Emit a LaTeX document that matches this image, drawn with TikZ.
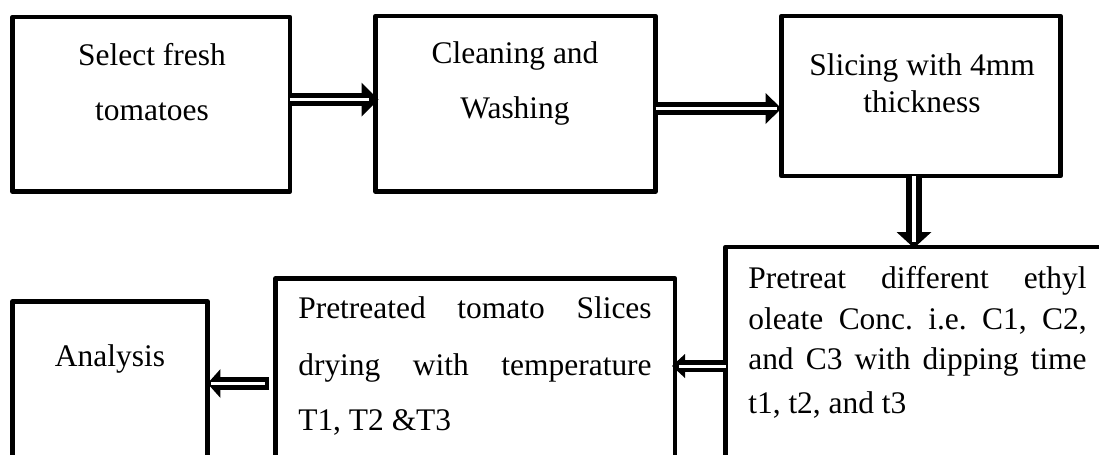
\documentclass[tikz,border=0pt]{standalone}
\usepackage{fontspec}
\setmainfont{Liberation Serif}
\usetikzlibrary{arrows.meta}
\frenchspacing
\begin{document}
\begin{tikzpicture}[x=0.02cm,y=-0.02cm,
  box/.style={draw=black, line width=0.09cm, line join=round, inner sep=0pt, outer sep=0pt, fill=white},
  txt/.style={inner sep=0pt, outer sep=0pt, font=\fontsize{17.9}{20}\selectfont\frenchspacing},
  dblarrow/.style={draw=black, line width=#1},
  stripe/.style={draw=white, line width=#1}
]
\useasboundingbox (0,0) rectangle (1099,454);
\clip (0,0) rectangle (1099,454);
% boxes
\node[box, minimum width=277.5*0.02cm, minimum height=174.5*0.02cm] (b1) at (151.25,104.25) {};
\node[box, minimum width=280*0.02cm, minimum height=175.5*0.02cm] (b2) at (515.5,103.75) {};
\node[box, minimum width=279*0.02cm, minimum height=160*0.02cm] (b3) at (921,96) {};
\node[box, minimum width=394.5*0.02cm, minimum height=233*0.02cm] (b4) at (922.75,363.5) {};
\node[box, minimum width=399.5*0.02cm, minimum height=201.5*0.02cm] (b5) at (475.25,379.25) {};
\node[box, minimum width=195*0.02cm, minimum height=178.5*0.02cm] (b6) at (110,390.75) {};
% texts
\node[txt, anchor=base] (t1a) at (152,65) {Select fresh};
\node[txt, anchor=base] (t1b) at (152,120) {tomatoes};
\node[txt, anchor=base] (t2a) at (515,63) {Cleaning and};
\node[txt, anchor=base] (t2b) at (515,118) {Washing};
\node[txt, anchor=base] (t3a) at (922,75) {Slicing with 4mm};
\node[txt, anchor=base] (t3b) at (922,112) {thickness};
\node[txt, anchor=base] (t6a) at (110,366.7) {Analysis};
\node[txt, anchor=base west] (t5a) at (298.3,318.3) {\makebox[7.068cm][s]{Pretreated tomato Slices}};
\node[txt, anchor=base west] (t5b) at (298.3,375) {\makebox[7.068cm][s]{drying with temperature}};
\node[txt, anchor=base west] (t5c) at (298.3,430) {T1, T2 \&T3};
\node[txt, anchor=base west] (t4a) at (748.3,288.3) {\makebox[6.768cm][s]{Pretreat different ethyl}};
\node[txt, anchor=base west] (t4b) at (748.3,329.3) {\makebox[6.768cm][s]{oleate Conc. i.e. C1, C2,}};
\node[txt, anchor=base west] (t4c) at (748.3,369.3) {\makebox[6.768cm][s]{and C3 with dipping time}};
\node[txt, anchor=base west] (t4d) at (748.3,413.3) {t1, t2, and t3};
% arrow 1
\draw[dblarrow=0.26cm, shorten >=-0.06cm, -{Triangle[length=0.34cm, width=0.68cm, line width=0pt]}]
  ([yshift=0.095cm]b1.east) -- ([yshift=0.095cm]b1.east -| b2.west);
\draw[stripe=0.07cm, shorten >=0.14cm]
  ([yshift=0.095cm]b1.east) -- ([yshift=0.095cm]b1.east -| b2.west);
% arrow 2
\draw[dblarrow=0.26cm, -{Triangle[length=0.32cm, width=0.62cm, line width=0pt]}]
  ([yshift=-0.095cm]b2.east) -- ([yshift=-0.095cm]b2.east -| b3.west);
\draw[stripe=0.07cm, shorten >=0.1cm]
  ([yshift=-0.095cm]b2.east) -- ([yshift=-0.095cm]b2.east -| b3.west);
% arrow 3
\draw[dblarrow=0.31cm, shorten >=-0.02cm, -{Triangle[length=0.32cm, width=0.7cm, line width=0pt]}]
  ([xshift=-0.14cm]b3.south) -- ([xshift=-0.14cm]b3.south |- b4.north);
\draw[stripe=0.08cm, shorten >=0.1cm]
  ([xshift=-0.14cm]b3.south) -- ([xshift=-0.14cm]b3.south |- b4.north);
% arrow 4
\draw[dblarrow=0.24cm, shorten >=-0.06cm, -{Triangle[length=0.26cm, width=0.48cm, line width=0pt]}]
  ([yshift=-0.05cm]b4.west) -- ([yshift=-0.05cm]b4.west -| b5.east);
\draw[stripe=0.06cm, shorten >=0.08cm]
  ([yshift=-0.05cm]b4.west) -- ([yshift=-0.05cm]b4.west -| b5.east);
% arrow 5
\draw[dblarrow=0.26cm, shorten <=0.13cm, -{Triangle[length=0.26cm, width=0.58cm, line width=0pt]}]
  ([yshift=-0.085cm]b5.west) -- ([yshift=-0.085cm]b5.west -| b6.east);
\draw[stripe=0.07cm, shorten <=0.21cm, shorten >=0.06cm]
  ([yshift=-0.085cm]b5.west) -- ([yshift=-0.085cm]b5.west -| b6.east);
\end{tikzpicture}
\end{document}
